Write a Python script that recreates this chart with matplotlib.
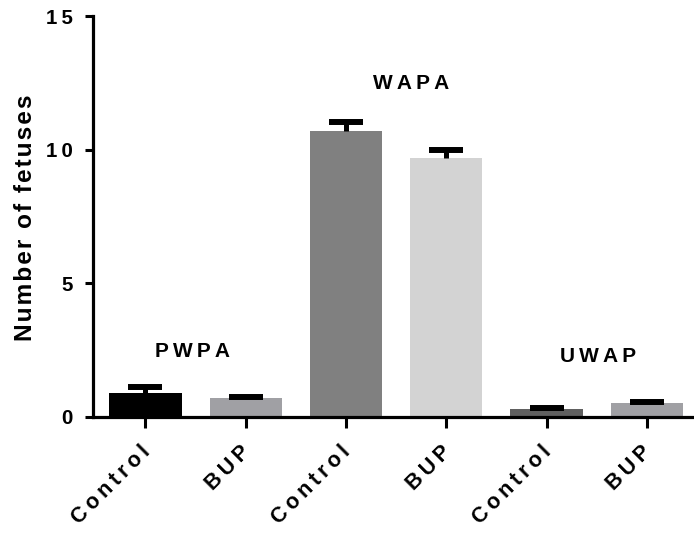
import matplotlib
matplotlib.use("Agg")
import matplotlib.pyplot as plt
from matplotlib.transforms import ScaledTranslation

plt.rcParams['font.family'] = ['Liberation Sans', 'DejaVu Sans']
plt.rcParams['font.weight'] = 'bold'

# data
tick_labels = ["Control", "BUP", "Control", "BUP", "Control", "BUP"]
means = [0.89, 0.68, 10.71, 9.69, 0.28, 0.49]
errs = [0.20, 0.06, 0.33, 0.30, 0.03, 0.05]
colors = ["#000000", "#a0a0a4", "#808080", "#d3d3d3", "#606060", "#a0a0a4"]
groups = ["PWPA", "WAPA", "UWAP"]
group_x = [0.47, 2.65, 4.51]
group_y = [2.43, 12.49, 2.24]


def spaced(s, sep="\u2009"):
    # letter spacing like the Prism export
    return sep.join(s)


fig = plt.figure(figsize=(6.94, 5.34), dpi=100)
ax = fig.add_axes([0.134, 0.22, 0.866, 0.75])

x = list(range(len(means)))
ax.bar(x, means, width=0.72, color=colors, zorder=2)

# error bars: stem upward only, then a thick cap on top
ax.errorbar(x, means, yerr=[[0] * len(errs), errs], fmt='none',
            ecolor='black', elinewidth=3.6, capsize=0, zorder=3)
tops = [m + e for m, e in zip(means, errs)]
ax.scatter(x, tops, marker='_', s=23.8 ** 2, linewidths=4.3,
           color='black', zorder=4)

for name, gx, gy in zip(groups, group_x, group_y):
    ax.text(gx, gy, spaced(name), ha='center', va='center',
            fontsize=15, fontweight='bold')

ax.set_xlim(-0.523, 5.47)
ax.set_ylim(0, 15)
ax.set_yticks([0, 5, 10, 15])
ax.set_yticklabels([spaced(str(v)) for v in [0, 5, 10, 15]])
ax.set_xticks(x)
ax.set_xticklabels([spaced(t) for t in tick_labels], rotation=45,
                   ha='right', va='top', rotation_mode='anchor')

for side in ['top', 'right']:
    ax.spines[side].set_visible(False)
for side in ['left', 'bottom']:
    ax.spines[side].set_linewidth(2.3)

ax.tick_params(axis='y', length=5.8, width=2.2, pad=9, labelsize=14.8)
ax.tick_params(axis='x', length=7.9, width=2.2, pad=10, labelsize=15.5)
shift = ScaledTranslation(-0.06, 0, fig.dpi_scale_trans)
for lab in ax.get_xticklabels():
    lab.set_transform(lab.get_transform() + shift)
for lab in ax.get_xticklabels() + ax.get_yticklabels():
    lab.set_fontweight('bold')

ax.set_ylabel(spaced("Number of fetuses", "\u200a"), fontsize=17.6, fontweight='bold')
ax.yaxis.set_label_coords(-0.093, 0.496)

fig.savefig("out.png", dpi=100)
